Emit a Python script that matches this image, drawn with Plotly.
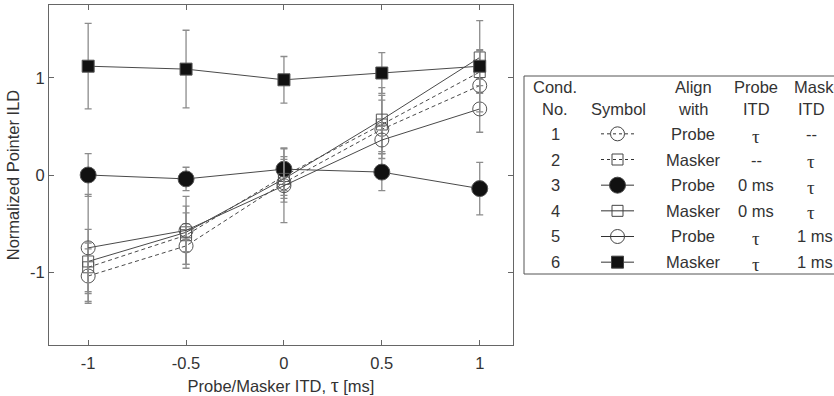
import plotly.graph_objects as go

# ---------------- data ----------------
itd = [-1, -0.5, 0, 0.5, 1]
x_tick_vals = [-1, -0.5, 0, 0.5, 1]
x_tick_text = ["-1", "-0.5", "0", "0.5", "1"]
y_tick_vals = [-1, 0, 1]
y_tick_text = ["-1", "0", "1"]

cond1 = [-1.04, -0.73, -0.08, 0.47, 0.92]   # dashed, open circle
cond1_err = [0.28, 0.23, 0.20, 0.30, 0.07]
cond2 = [-0.95, -0.62, -0.01, 0.52, 1.06]   # dashed, open square
cond2_err = [0.25, 0.30, 0.20, 0.30, 0.22]
cond3 = [0.00, -0.04, 0.06, 0.03, -0.14]    # solid, filled circle
cond3_err = [0.22, 0.12, 0.22, 0.19, 0.27]
cond4 = [-0.89, -0.59, -0.04, 0.57, 1.21]   # solid, open square
cond4_err = [0.33, 0.20, 0.20, 0.33, 0.08]
cond5 = [-0.75, -0.57, -0.11, 0.36, 0.68]   # solid, open circle
cond5_err = [0.55, 0.35, 0.38, 0.14, 0.24]
cond6 = [1.12, 1.09, 0.98, 1.05, 1.12]      # solid, filled square
cond6_err = [0.44, 0.40, 0.24, 0.21, 0.47]

table_header1 = ["Cond.", "", "Align", "Probe", "Masker"]
table_header2 = ["No.", "Symbol", "with", "ITD", "ITD"]
cond_no = ["1", "2", "3", "4", "5", "6"]
align_with = ["Probe", "Masker", "Probe", "Masker", "Probe", "Masker"]
probe_itd = ["τ", "--", "0 ms", "0 ms", "τ", "τ"]
mask_itd = ["--", "τ", "τ", "τ", "1 ms", "1 ms"]

# ---------------- styling ----------------
W, H = 834, 396
L, R, T, B = 49, 0, 5, 51
PW = W - L - R
PH = H - T - B
PLOT_RIGHT = 513

def px(xp):
    return (xp - L) / PW

def py(yp):
    return (H - B - yp) / PH

LINE = "#4a4a4a"
ERR = "#8c8c8c"
TXT = "#333333"
SANS = "Liberation Sans, Arial, sans-serif"
SERIF = "Liberation Serif, Times New Roman, serif"
FS = 16.5

series = [
    (cond1, cond1_err, "circle-open", 14, "4px,3px"),
    (cond2, cond2_err, "square-open", 11, "4px,3px"),
    (cond3, cond3_err, "circle", 16, "solid"),
    (cond4, cond4_err, "square-open", 11, "solid"),
    (cond5, cond5_err, "circle-open", 14, "solid"),
    (cond6, cond6_err, "square", 12, "solid"),
]

fig = go.Figure()
for vals, err, sym, size, dash in series:
    filled = not sym.endswith("open")
    fig.add_trace(go.Scatter(
        x=itd, y=vals, mode="lines+markers",
        line=dict(color=LINE, width=1, dash=dash),
        marker=dict(symbol=sym, size=size,
                    color="#111111" if filled else "#555555",
                    line=dict(color="#555555", width=1)),
        error_y=dict(type="data", array=err, visible=True,
                     color=ERR, thickness=1.3, width=3.5),
        showlegend=False, xaxis="x", yaxis="y",
    ))

# legend symbols inside the table (separate small axes)
for i, (vals, err, sym, size, dash) in enumerate(series):
    row = i + 1
    filled = not sym.endswith("open")
    fig.add_trace(go.Scatter(
        x=[0.0, 1.0], y=[row, row], mode="lines",
        line=dict(color="#333333", width=1, dash="3px,3px" if dash != "solid" else "solid"),
        showlegend=False, xaxis="x2", yaxis="y2", hoverinfo="skip",
    ))
    fig.add_trace(go.Scatter(
        x=[0.5], y=[row], mode="markers",
        marker=dict(symbol=sym, size=size,
                    color="#111111" if filled else "#444444",
                    line=dict(color="#444444", width=1)),
        showlegend=False, xaxis="x2", yaxis="y2", hoverinfo="skip",
    ))

axis_common = dict(
    showline=True, linecolor="#666666", linewidth=1, mirror="ticks",
    ticks="inside", ticklen=5, tickcolor="#666666", showgrid=False,
    zeroline=False, tickfont=dict(family=SANS, size=FS, color=TXT),
)

fig.update_layout(
    width=W, height=H,
    margin=dict(l=L, r=R, t=T, b=B, autoexpand=False),
    paper_bgcolor="white", plot_bgcolor="white",
    xaxis=dict(**axis_common, domain=[0, px(PLOT_RIGHT)], range=[-1.2, 1.17],
               tickvals=x_tick_vals, ticktext=x_tick_text, ticklabelstandoff=3,
               title=dict(text="Probe/Masker ITD, <span style='font-family:Liberation Serif;font-size:20px'>τ</span> [ms]",
                          font=dict(family=SANS, size=FS, color=TXT), standoff=10)),
    yaxis=dict(**axis_common, domain=[0, 1], range=[-1.75, 1.75],
               tickvals=y_tick_vals, ticktext=y_tick_text,
               title=dict(text="Normalized Pointer ILD",
                          font=dict(family=SANS, size=FS, color=TXT), standoff=6)),
    xaxis2=dict(domain=[px(601), px(634)], range=[0, 1], visible=False, fixedrange=True),
    yaxis2=dict(domain=[py(275), py(121)], range=[6.5, 0.5], visible=False, fixedrange=True),
)

# table frame
fig.add_shape(type="rect", xref="paper", yref="paper",
              x0=px(524), x1=px(860), y0=py(274), y1=py(76),
              line=dict(color="#555555", width=1))

col_x = [555, 618, 693, 756, 811]
row_y = [134 + 25.6 * k for k in range(6)]

def add_text(x, y, s, anchor="center"):
    is_tau = s == "τ"
    fig.add_annotation(
        x=px(x), y=py(y + (2 if is_tau else 0)), xref="paper", yref="paper",
        text=s, showarrow=False, xanchor=anchor, yanchor="middle",
        font=dict(family=SERIF if is_tau else SANS, size=19 if is_tau else FS, color=TXT),
    )

for j, s in enumerate(table_header1):
    if not s:
        continue
    if j == 4:
        add_text(792, 87, s, anchor="left")
    else:
        add_text(col_x[j], 87, s)
for j, s in enumerate(table_header2):
    add_text(col_x[j], 109, s)

for k in range(6):
    add_text(col_x[0], row_y[k], cond_no[k])
    add_text(col_x[2], row_y[k], align_with[k])
    add_text(col_x[3], row_y[k], probe_itd[k])
    if "ms" in mask_itd[k]:
        add_text(795, row_y[k], mask_itd[k], anchor="left")
    else:
        add_text(col_x[4], row_y[k], mask_itd[k])

fig.write_html("out.html", config={"displayModeBar": False},
               post_script="document.body.style.margin='0';")
